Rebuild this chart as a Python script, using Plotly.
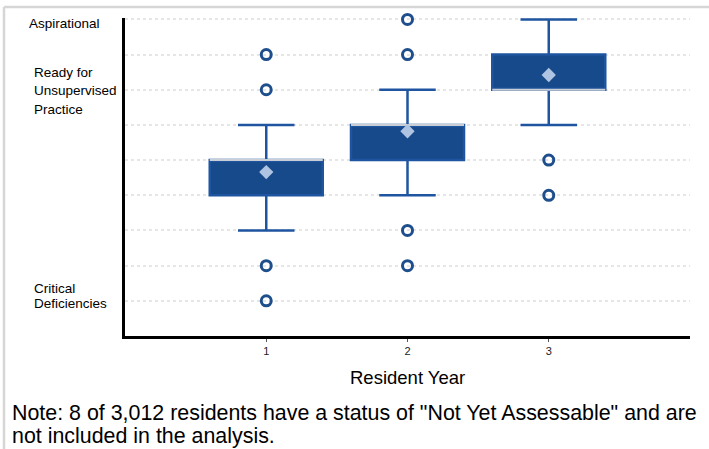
import plotly.graph_objects as go

# ---- data ----
years = [1, 2, 3]
q1 = [2.5, 3.0, 4.0]
median = [3.0, 3.5, 4.0]
q3 = [3.0, 3.5, 4.5]
lower_whisker = [2.0, 2.5, 3.5]
upper_whisker = [3.5, 4.0, 5.0]
means = [2.83, 3.41, 4.21]
outliers_x = [1, 1, 1, 1, 2, 2, 2, 2, 3, 3]
outliers_y = [4.5, 4.0, 1.5, 1.0, 5.0, 4.5, 2.0, 1.5, 3.0, 2.5]
level_ticks = [1, 1.5, 2, 2.5, 3, 3.5, 4, 4.5, 5]
level_labels = {5: ["Aspirational"], 4: ["Ready for", "Unsupervised", "Practice"], 1: ["Critical", "Deficiencies"]}
x_title = "Resident Year"
note_lines = ['Note: 8 of 3,012 residents have a status of "Not Yet Assessable" and are',
              'not included in the analysis.']

BLUE = "#174A8A"
WHISK = "#1F55A0"
FONT = "Liberation Sans, Arial, sans-serif"
BOX_W = 0.8

fig = go.Figure()
fig.add_trace(go.Box(
    x=years, q1=q1, median=median, q3=q3,
    lowerfence=lower_whisker, upperfence=upper_whisker,
    width=BOX_W, whiskerwidth=0.5, boxpoints=False,
    fillcolor=BLUE, line=dict(color=WHISK, width=2.5),
    showlegend=False, hoverinfo="skip",
))
# median lines in light grey
for x, m in zip(years, median):
    fig.add_trace(go.Scatter(
        x=[x - BOX_W / 2, x + BOX_W / 2], y=[m, m], mode="lines",
        line=dict(color="#C9CED4", width=2), showlegend=False, hoverinfo="skip",
        cliponaxis=False,
    ))
# means
fig.add_trace(go.Scatter(
    x=years, y=means, mode="markers",
    marker=dict(symbol="diamond", size=11, color="#AFC4E2"),
    showlegend=False, hoverinfo="skip",
))
# outliers
fig.add_trace(go.Scatter(
    x=outliers_x, y=outliers_y, mode="markers",
    marker=dict(symbol="circle-open", size=10, color="#1F4E8C", line=dict(width=3, color="#1F4E8C")),
    showlegend=False, hoverinfo="skip", cliponaxis=False,
))

L, R, T, B = 125, 19, 18, 113
W, H = 709, 449
pw, ph = W - L - R, H - T - B

def px_x(px):
    return (px - L) / pw

def px_y(py):
    return (H - B - py) / ph

fig.update_layout(
    width=W, height=H,
    margin=dict(l=L, r=R, t=T, b=B),
    plot_bgcolor="white", paper_bgcolor="white",
    font=dict(family=FONT, color="#000"),
    xaxis=dict(
        range=[0, 4], tickvals=years, ticktext=[str(y) for y in years],
        showgrid=False, zeroline=False,
        showline=True, linecolor="#000", linewidth=2.5,
        ticks="outside", ticklen=3, tickcolor="#555", tickwidth=1,
        tickfont=dict(size=11, color="#222"),
    ),
    yaxis=dict(
        range=[0.5, 5.02], tickvals=level_ticks, showticklabels=False,
        showgrid=True, gridcolor="#E6E6E6", gridwidth=2, griddash="dot",
        zeroline=False, showline=True, linecolor="#000", linewidth=2.5,
    ),
)

annotations = []
spacing = {5: 0, 4: 18.5, 1: 14.5}
offset = {5: 4, 4: 1, 1: -5}
xpos = {5: 27, 4: 32, 1: 32}
for lvl, lines in level_labels.items():
    n = len(lines)
    for i, txt in enumerate(lines):
        shift = -((i - (n - 1) / 2) * spacing[lvl]) - offset[lvl]
        annotations.append(dict(
            text=txt, xref="paper", yref="y", x=px_x(xpos[lvl]), y=lvl,
            xanchor="left", yanchor="middle", yshift=shift, showarrow=False,
            font=dict(size=13.5, color="#000"),
        ))
annotations.append(dict(
    text=x_title, xref="paper", yref="paper", x=0.5, y=px_y(377),
    xanchor="center", yanchor="middle", showarrow=False, font=dict(size=18.5, color="#000"),
))
for i, txt in enumerate(note_lines):
    annotations.append(dict(
        text=txt, xref="paper", yref="paper", x=px_x(10), y=px_y(413 + 23 * i),
        xanchor="left", yanchor="middle", align="left", showarrow=False,
        font=dict(size=21.4, color="#000"),
    ))
fig.update_layout(annotations=annotations)

# light grey frame (top and left)
fig.add_shape(type="line", xref="paper", yref="paper",
              x0=px_x(4), x1=px_x(709), y0=px_y(7), y1=px_y(7),
              line=dict(color="#D6D6D6", width=2.5))
fig.add_shape(type="line", xref="paper", yref="paper",
              x0=px_x(4), x1=px_x(4), y0=px_y(7), y1=px_y(449),
              line=dict(color="#D6D6D6", width=2.5))

fig.write_html("out.html", config={"displayModeBar": False},
               post_script="document.body.style.margin='0';")
